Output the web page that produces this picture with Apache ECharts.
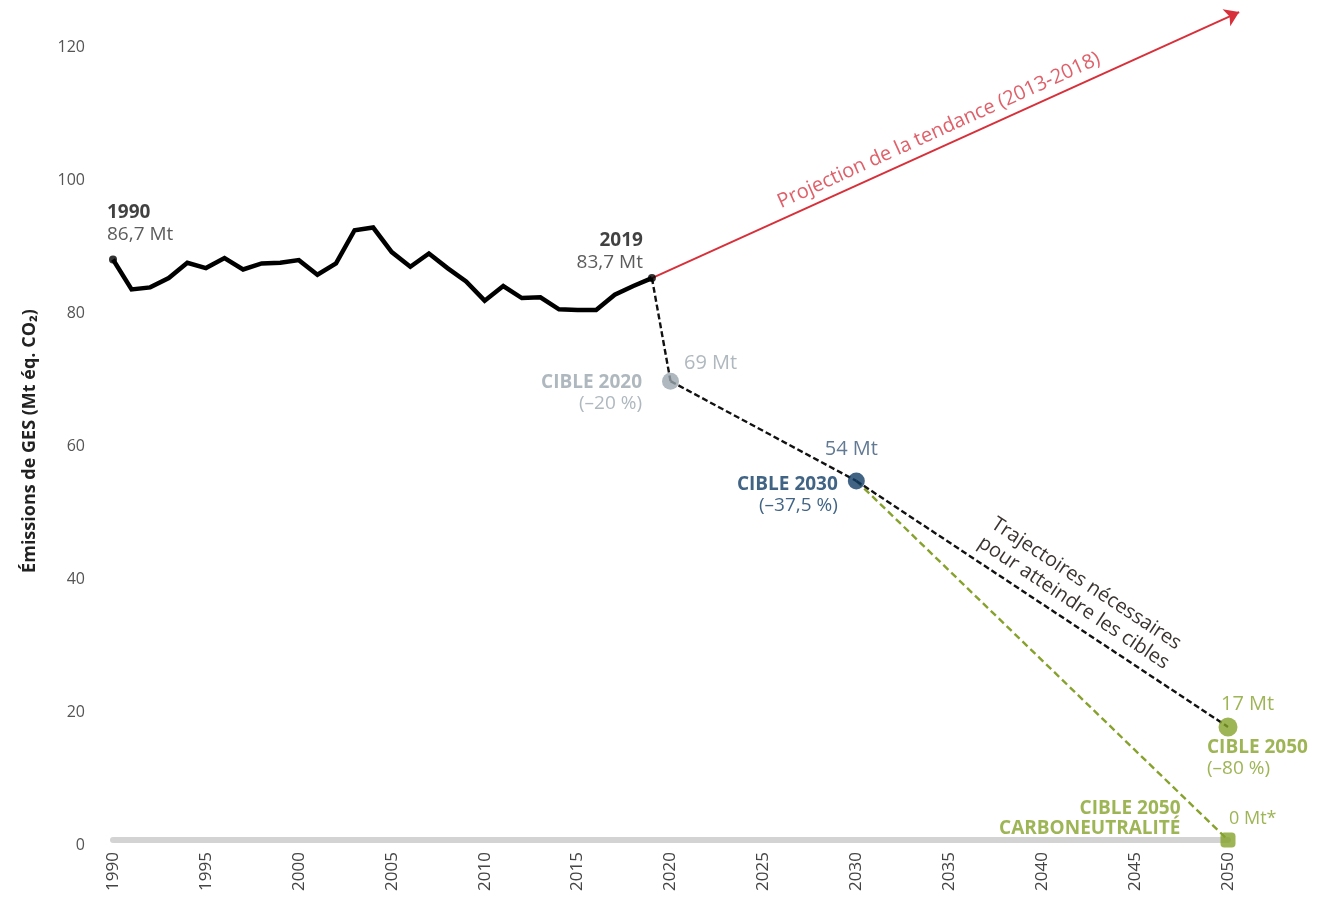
<!DOCTYPE html>
<html>
<head>
<meta charset="utf-8">
<script src="https://cdn.jsdelivr.net/npm/echarts@6/dist/echarts.min.js"></script>
<style>
html,body{margin:0;padding:0;background:#fff;}
#chart{width:1317px;height:905px;}
</style>
</head>
<body>
<div id="chart"></div>
<script>
// ---- data ----
const years = [1990,1991,1992,1993,1994,1995,1996,1997,1998,1999,2000,2001,2002,2003,2004,2005,2006,2007,2008,2009,2010,2011,2012,2013,2014,2015,2016,2017,2018,2019];
const emissions = [87.3,82.8,83.1,84.5,86.8,86.0,87.5,85.8,86.7,86.8,87.2,85.0,86.7,91.7,92.1,88.4,86.2,88.2,86.0,84.0,81.1,83.3,81.5,81.6,79.8,79.7,79.7,82.0,83.3,84.5];
const targetYears = [2020, 2030, 2050];
const targetValues = [69, 54, 17];
const neutralYear = 2050;
const neutralValue = 0;
const trendEnd = [2050.6, 124.5];
const xTicks = {min: 1990, max: 2050, step: 5};
const yTicks = {min: 0, max: 120, step: 20};
const endLabels = ['{b|1990}\n{n|86,7 Mt}', '{b|2019}\n{n|83,7 Mt}'];
const targetNames = ['{b|CIBLE 2020}\n{n|(–20 %)}', '{b|CIBLE 2030}\n{n|(–37,5 %)}', '{b|CIBLE 2050}\n{n|(–80 %)}'];
const targetMt = ['69 Mt', '54 Mt', '17 Mt'];
const neutralName = '{b|CIBLE 2050}\n{b|CARBONEUTRALITÉ}';
const neutralMt = '0 Mt*';
const trendText = 'Projection de la tendance (2013-2018)';
const pathText = 'Trajectoires nécessaires\npour atteindre les cibles';

// ---- styles ----
const FONT = '"Open Sans", "Noto Sans", sans-serif';
const GREY = '#9aa6ae', NAVY = '#123d67', GREEN = '#86a22c', RED = '#d8303a';
const colors = [GREY, NAVY, GREEN];
const FS = 19;

const lastIdx = years.length - 1;
const p2019 = [years[lastIdx], emissions[lastIdx]];
const targetPts = targetYears.map((y, i) => [y, targetValues[i]]);

const chart = echarts.init(document.getElementById('chart'));

const targetLabelCfg = [
  {position: 'left', align: 'right', verticalAlign: 'middle', distance: 20, offset: [0, 12]},
  {position: 'left', align: 'right', verticalAlign: 'middle', distance: 10, offset: [0, 14]},
  {position: 'bottom', align: 'left', verticalAlign: 'top', distance: 1, offset: [-21, 0]}
];
const mtLabelCfg = [
  {position: 'right', align: 'left', verticalAlign: 'middle', distance: 5, offset: [0, -18]},
  {position: 'top', align: 'center', verticalAlign: 'bottom', distance: 5, offset: [-5, -8]},
  {position: 'top', align: 'left', verticalAlign: 'bottom', distance: 4, offset: [-7, 0]}
];
const endRich = {
  b: {fontSize: FS, fontWeight: 'bold', color: '#111', lineHeight: 22, fontFamily: FONT},
  n: {fontSize: FS, color: '#333', lineHeight: 22, fontFamily: FONT}
};

const option = {
  animation: false,
  textStyle: {fontFamily: FONT},
  grid: {left: 113, right: 89, top: 42, bottom: 65},
  xAxis: {
    type: 'value', min: xTicks.min, max: xTicks.max, interval: xTicks.step,
    splitLine: {show: false}, axisTick: {show: false},
    axisLine: {show: true, lineStyle: {color: '#d3d3d3', width: 6}},
    axisLabel: {rotate: 90, color: '#444', fontSize: 17, margin: 12, fontFamily: FONT, formatter: v => String(v)}
  },
  yAxis: {
    type: 'value', min: yTicks.min, max: yTicks.max, interval: yTicks.step,
    splitLine: {show: false}, axisTick: {show: false}, axisLine: {show: false},
    axisLabel: {color: '#555', fontSize: 16, margin: 28, fontFamily: FONT, verticalAlign: 'top', lineHeight: 10},
    name: 'Émissions de GES (Mt éq. CO₂)', nameLocation: 'middle', nameRotate: 90, nameGap: 74,
    nameTextStyle: {fontSize: 18, fontWeight: 'bold', color: '#222', fontFamily: FONT}
  },
  series: [
    // trend arrow
    {
      type: 'lines', coordinateSystem: 'cartesian2d', clip: false, z: 3,
      symbol: ['none', 'arrow'], symbolSize: 14,
      lineStyle: {color: RED, width: 2, opacity: 1},
      label: {show: true, position: 'insideMiddleTop', distance: 6, formatter: trendText,
        color: '#e0606a', fontSize: 20, fontFamily: FONT},
      data: [{coords: [p2019, trendEnd]}]
    },
    // black dashed target path
    {
      type: 'lines', coordinateSystem: 'cartesian2d', clip: false, z: 3,
      lineStyle: {color: '#111', width: 2.4, type: [6, 3], opacity: 1},
      label: {show: false},
      data: [
        {coords: [p2019, targetPts[0]]},
        {coords: [targetPts[0], targetPts[1]]},
        {coords: [targetPts[1], targetPts[2]],
          label: {show: true, position: 'insideMiddleTop', distance: 8, formatter: pathText,
            color: '#3a3430', fontSize: 20, lineHeight: 23, fontFamily: FONT, align: 'center', offset: [30, 0]}}
      ]
    },
    // green dashed neutrality path
    {
      type: 'lines', coordinateSystem: 'cartesian2d', clip: false, z: 2,
      lineStyle: {color: GREEN, width: 2.4, type: [7, 4], opacity: 1},
      data: [{coords: [targetPts[1], [neutralYear, neutralValue]]}]
    },
    // historical emissions
    {
      type: 'line', z: 4, symbol: 'none', clip: false,
      lineStyle: {color: '#000', width: 4.5, join: 'miter'},
      data: years.map((y, i) => [y, emissions[i]])
    },
    // endpoints 1990/2019
    {
      type: 'scatter', z: 5, symbolSize: 8, itemStyle: {color: '#000'},
      label: {show: true, fontFamily: FONT},
      data: [
        {value: [years[0], emissions[0]], label: {formatter: endLabels[0], position: 'top', align: 'left', verticalAlign: 'bottom', distance: 10, offset: [-6, 0], rich: endRich}},
        {value: p2019, label: {formatter: endLabels[1], position: 'top', align: 'right', verticalAlign: 'bottom', distance: 0, offset: [-9, 0], rich: endRich}}
      ]
    },
    // target markers with names
    {
      type: 'scatter', z: 6,
      data: targetPts.map((p, i) => ({
        value: p,
        symbolSize: i === 2 ? 19 : 17,
        itemStyle: {color: colors[i]},
        label: Object.assign({show: true, formatter: targetNames[i], fontFamily: FONT,
          rich: {
            b: {fontSize: FS, fontWeight: 'bold', color: colors[i], lineHeight: 21, fontFamily: FONT, align: targetLabelCfg[i].align},
            n: {fontSize: FS, color: colors[i], lineHeight: 21, fontFamily: FONT, align: targetLabelCfg[i].align}
          }}, targetLabelCfg[i])
      }))
    },
    // target value labels
    {
      type: 'scatter', z: 6, symbolSize: 17, itemStyle: {color: 'rgba(0,0,0,0)'}, silent: true,
      data: targetPts.map((p, i) => ({
        value: p,
        label: Object.assign({show: true, formatter: targetMt[i], fontSize: 20, fontFamily: FONT,
          color: i === 1 ? '#3b5878' : colors[i]}, mtLabelCfg[i])
      }))
    },
    // neutrality marker
    {
      type: 'scatter', z: 7, symbol: 'roundRect', symbolSize: 15, itemStyle: {color: GREEN},
      data: [{
        value: [neutralYear, neutralValue],
        label: {show: true, formatter: neutralName, position: 'left', align: 'right', verticalAlign: 'middle', distance: 40, offset: [0, -21],
          rich: {b: {fontSize: FS, fontWeight: 'bold', color: GREEN, lineHeight: 20, fontFamily: FONT, align: 'right'}}}
      }]
    },
    // neutrality value label
    {
      type: 'scatter', z: 7, symbolSize: 15, itemStyle: {color: 'rgba(0,0,0,0)'}, silent: true,
      data: [{
        value: [neutralYear, neutralValue],
        label: {show: true, formatter: neutralMt, position: 'top', align: 'left', verticalAlign: 'bottom', distance: 5, offset: [1, 0],
          fontSize: 18, color: GREEN, fontFamily: FONT}
      }]
    }
  ]
};
chart.setOption(option);
</script>
</body>
</html>
